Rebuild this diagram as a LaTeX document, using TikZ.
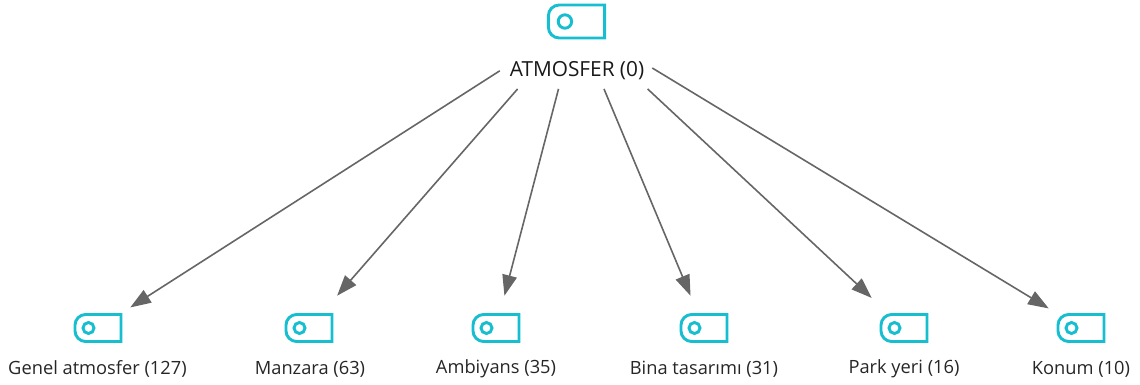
\documentclass[tikz,border=0pt]{standalone}
\usepackage{fontspec}
\setmainfont{Open Sans}
\usetikzlibrary{arrows.meta}
\definecolor{tagcyan}{HTML}{17BECF}
\definecolor{edgegray}{HTML}{666666}
\tikzset{
  tagbox/.style={inner sep=0pt, minimum width=#1*.75pt, minimum height=#1*.75pt},
  taglabel/.style={font=\fontsize{13.7pt}{15pt}\selectfont, text=black!85, inner sep=0pt},
  rootlabel/.style={font=\fontsize{15.6pt}{18pt}\selectfont, text=black!90, inner sep=0pt},
  edge/.style={draw=edgegray, line width=1.2pt, -{Triangle[length=15.5pt, width=11pt]}},
  tagicon/.pic={
    \draw[tagcyan, line width=2.2pt, rounded corners=8pt] (0,-13.5) -- (-23,-13.5) -- (-23,13.5) -- (0,13.5) [sharp corners] -- (23,13.5) -- (23,-13.5) -- cycle;
    \draw[tagcyan, line width=2.2pt] (-9.5,0) circle (5.5);
  }
}
\begin{document}
\begin{tikzpicture}[x=.75pt,y=-.75pt]
\useasboundingbox (0,0) rectangle (1140,385);
\node[tagbox=64, minimum width=114pt, minimum height=100pt] (tag0) at (576,22){};
\pic[scale=1.22] at (576.5,21.5) {tagicon};
\node[rootlabel] (lab0) at (577,70.5){ATMOSFER (0)};
\node[tagbox=64] (tag1) at (98,328){};
\pic at (98,328) {tagicon};
\node[taglabel] (lab1) at (97.5,369){Genel atmosfer (127)};
\node[tagbox=64] (tag2) at (309,328){};
\pic at (309,328) {tagicon};
\node[taglabel] (lab2) at (310,369){Manzara (63)};
\node[tagbox=64] (tag3) at (496,328){};
\pic at (496,328) {tagicon};
\node[taglabel] (lab3) at (496,369){Ambiyans (35)};
\node[tagbox=64] (tag4) at (704,328){};
\pic at (704,328) {tagicon};
\node[taglabel] (lab4) at (704,369){Bina tasarımı (31)};
\node[tagbox=64] (tag5) at (904,328){};
\pic at (904,328) {tagicon};
\node[taglabel] (lab5) at (904,369){Park yeri (16)};
\node[tagbox=64] (tag6) at (1081,328){};
\pic at (1081,328) {tagicon};
\node[taglabel] (lab6) at (1081,369){Konum (10)};
\draw[edge](tag0) -- (tag1);
\draw[edge](tag0) -- (tag2);
\draw[edge](tag0) -- (tag3);
\draw[edge](tag0) -- (tag4);
\draw[edge](tag0) -- (tag5);
\draw[edge](tag0) -- (tag6);
\end{tikzpicture}
\end{document}
